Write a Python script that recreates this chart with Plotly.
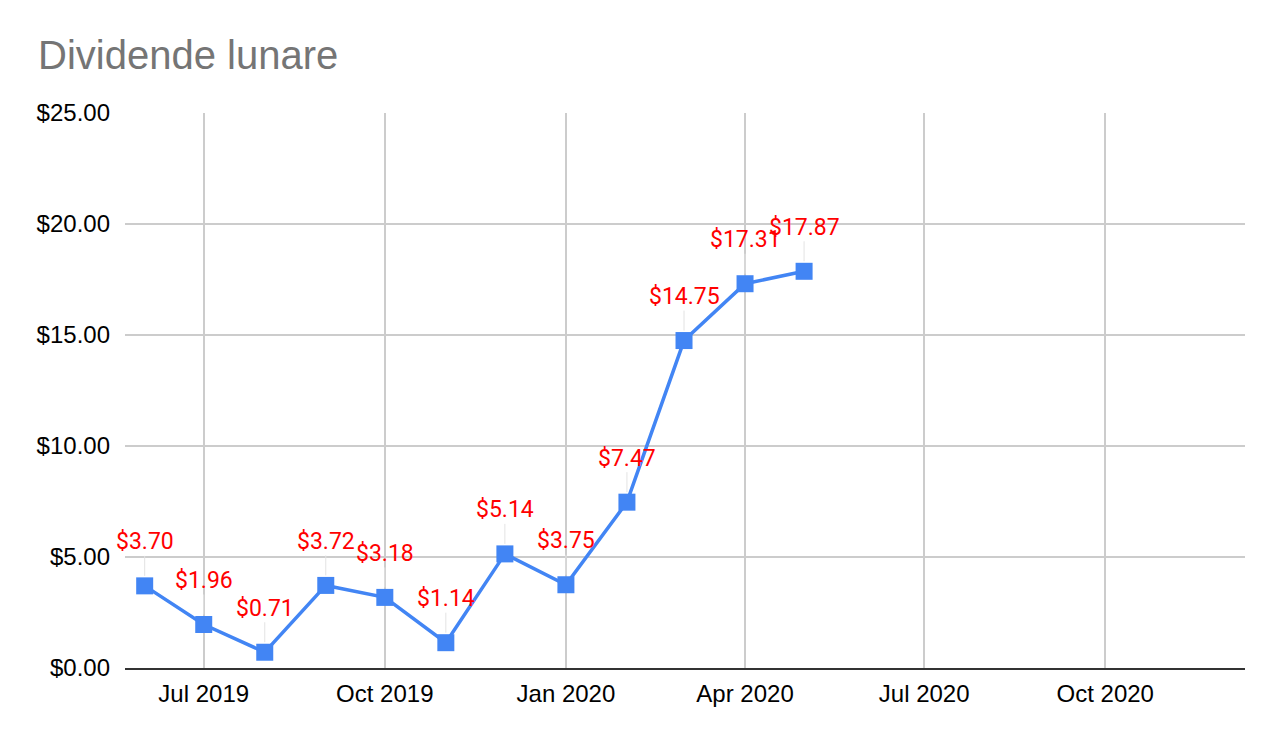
import plotly.graph_objects as go

months = ["2019-06-01", "2019-07-01", "2019-08-01", "2019-09-01", "2019-10-01", "2019-11-01",
          "2019-12-01", "2020-01-01", "2020-02-01", "2020-03-01", "2020-04-01", "2020-05-01"]
dividends = [3.70, 1.96, 0.71, 3.72, 3.18, 1.14, 5.14, 3.75, 7.47, 14.75, 17.31, 17.87]

title_text = "Dividende lunare"
x_range = ["2019-05-22", "2020-12-11"]
y_range = [0, 25]

W, H = 1274, 734

fig = go.Figure()
fig.add_trace(go.Scatter(
    x=months, y=dividends, mode="lines+markers",
    line=dict(color="#4285F4", width=3.5),
    marker=dict(symbol="square", size=17, color="#4285F4"),
    hoverinfo="skip",
))

for m, v in zip(months, dividends):
    fig.add_annotation(
        x=m, y=v, text=f"${v:.2f}", showarrow=True,
        ax=0, ay=-44, arrowhead=0, arrowwidth=1, arrowcolor="#e3e3e3",
        standoff=10, font=dict(family="Roboto", size=23, color="#ff0000"),
        borderpad=0,
    )

fig.update_layout(
    width=W, height=H,
    margin=dict(l=117, r=37, t=105, b=74),
    paper_bgcolor="white", plot_bgcolor="white",
    showlegend=False,
    title=dict(text=title_text, x=30 / W, xref="container", xanchor="left",
               y=1 - 47 / H, yanchor="middle",
               font=dict(family="Liberation Sans, Arial", size=40, color="#757575")),
    font=dict(family="Liberation Sans, Arial", size=24, color="#000000"),
)

fig.update_xaxes(
    type="date", range=x_range, tick0="2019-07-01", dtick="M3", tickformat="%b %Y",
    showgrid=True, gridcolor="#cccccc", gridwidth=1.5,
    showline=True, linecolor="#333333", linewidth=2,
    ticks="", ticklabelstandoff=3, tickfont=dict(size=24),
    zeroline=False,
)
fig.update_yaxes(
    range=y_range, dtick=5, tickprefix="$", tickformat=".2f",
    showgrid=True, gridcolor="#cccccc", gridwidth=1.5,
    zeroline=False, showline=False,
    ticks="", ticklabelstandoff=14, tickfont=dict(size=24),
)

fig.write_html("out.html")
